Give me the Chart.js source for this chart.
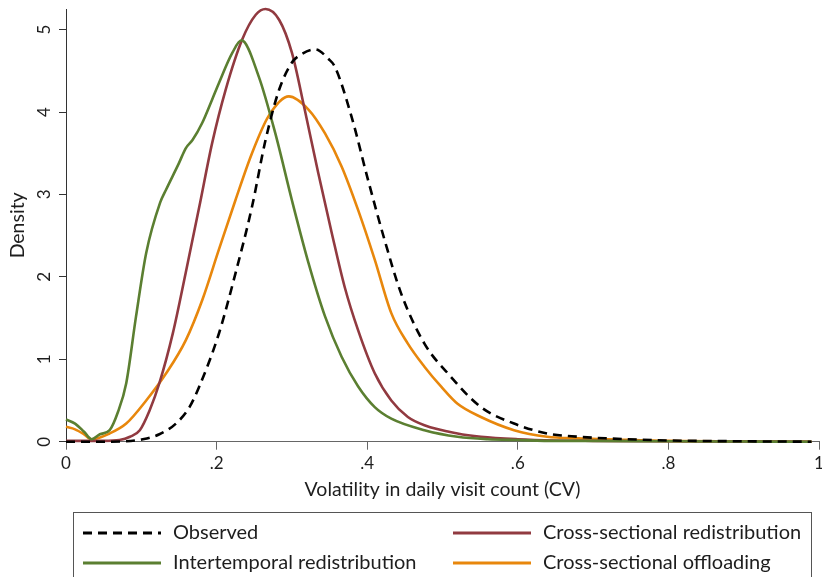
<!DOCTYPE html>
<html>
<head>
<meta charset="utf-8">
<script src="https://cdn.jsdelivr.net/npm/chart.js@4.4.1/dist/chart.umd.min.js"></script>
<style>
  html, body { margin: 0; padding: 0; background: #fff; overflow: hidden; }
  #wrap { width: 830px; height: 577px; }
</style>
</head>
<body>
<div id="wrap"><canvas id="grafico" width="830" height="577"></canvas></div>
<script>
// Ticks
const xTicks = [0, 0.2, 0.4, 0.6, 0.8, 1];
const xTickLabels = ['0', '.2', '.4', '.6', '.8', '1'];
const yTicks = [0, 1, 2, 3, 4, 5];

// Observed
const obsX = [0, 0.05, 0.08, 0.102, 0.124, 0.146, 0.164, 0.177, 0.203, 0.225, 0.247, 0.265, 0.283, 0.300, 0.309, 0.331, 0.349, 0.357, 0.379, 0.401, 0.423, 0.445, 0.476, 0.507, 0.551, 0.595, 0.639, 0.68, 0.72, 0.80, 0.90, 0.99];
const obsY = [0, 0, 0.005, 0.03, 0.09, 0.22, 0.42, 0.67, 1.31, 2.04, 2.85, 3.66, 4.27, 4.60, 4.68, 4.76, 4.64, 4.55, 3.95, 3.18, 2.45, 1.80, 1.19, 0.83, 0.42, 0.22, 0.10, 0.06, 0.04, 0.015, 0.005, 0];

// Intertemporal redistribution
const interX = [0, 0.012, 0.024, 0.034, 0.045, 0.058, 0.069, 0.080, 0.093, 0.1065, 0.125, 0.133, 0.150, 0.159, 0.168, 0.181, 0.194, 0.203, 0.221, 0.233, 0.256, 0.278, 0.300, 0.322, 0.344, 0.366, 0.388, 0.410, 0.432, 0.476, 0.52, 0.56, 0.60, 0.65, 0.70, 0.80, 0.90, 0.99];
const interY = [0.27, 0.22, 0.12, 0.03, 0.09, 0.14, 0.36, 0.71, 1.52, 2.29, 2.90, 3.06, 3.38, 3.56, 3.66, 3.87, 4.15, 4.35, 4.72, 4.87, 4.43, 3.74, 2.93, 2.17, 1.52, 1.03, 0.67, 0.42, 0.28, 0.14, 0.06, 0.03, 0.02, 0.01, 0.01, 0.005, 0.002, 0];

// Cross-sectional redistribution
const redisX = [0, 0.03, 0.05, 0.071, 0.085, 0.098, 0.111, 0.124, 0.142, 0.159, 0.177, 0.194, 0.212, 0.234, 0.252, 0.265, 0.283, 0.300, 0.317, 0.335, 0.353, 0.370, 0.388, 0.410, 0.432, 0.454, 0.476, 0.52, 0.551, 0.60, 0.65, 0.70, 0.80, 0.90, 0.99];
const redisY = [0.01, 0.01, 0.01, 0.02, 0.06, 0.14, 0.38, 0.71, 1.32, 2.05, 2.85, 3.62, 4.27, 4.88, 5.18, 5.25, 5.12, 4.72, 4.03, 3.26, 2.53, 1.88, 1.35, 0.83, 0.50, 0.30, 0.20, 0.10, 0.06, 0.03, 0.015, 0.01, 0.005, 0.002, 0];

// Cross-sectional offloading
const offX = [0, 0.012, 0.024, 0.034, 0.058, 0.080, 0.1065, 0.133, 0.159, 0.181, 0.203, 0.225, 0.247, 0.269, 0.296, 0.322, 0.344, 0.366, 0.388, 0.410, 0.432, 0.454, 0.476, 0.498, 0.52, 0.551, 0.595, 0.639, 0.68, 0.72, 0.80, 0.90, 0.99];
const offY = [0.18, 0.15, 0.09, 0.03, 0.10, 0.22, 0.50, 0.83, 1.23, 1.72, 2.33, 2.93, 3.50, 3.95, 4.19, 4.03, 3.74, 3.34, 2.81, 2.21, 1.56, 1.19, 0.91, 0.67, 0.46, 0.30, 0.14, 0.06, 0.04, 0.03, 0.01, 0.005, 0];

const etiquetas = ['Observed', 'Intertemporal redistribution', 'Cross-sectional redistribution', 'Cross-sectional offloading'];
const colores = ['#000000', '#5b7f31', '#913a40', '#e8870c'];

function puntos(xs, ys) {
    return xs.map((x, i) => ({x: x, y: ys[i]}));
}

const fuente = 'Lato, "Open Sans", sans-serif';
const textoColor = '#1e1e1e';

// Leyenda dibujada en el canvas (caja con dos columnas)
const leyendaCaja = {
    id: 'leyendaCaja',
    afterDraw(chart) {
        const ctx = chart.ctx;
        ctx.save();
        ctx.strokeStyle = '#555';
        ctx.lineWidth = 1;
        ctx.strokeRect(73.5, 512.5, 738, 90);

        const items = [
            {ds: 0, x: 83, y: 533},
            {ds: 2, x: 453, y: 533},
            {ds: 1, x: 83, y: 563},
            {ds: 3, x: 453, y: 563}
        ];
        items.forEach(it => {
            const ds = chart.data.datasets[it.ds];
            ctx.beginPath();
            ctx.strokeStyle = ds.borderColor;
            ctx.lineWidth = 3;
            ctx.setLineDash(ds.borderDash || []);
            ctx.moveTo(it.x, it.y);
            ctx.lineTo(it.x + 78, it.y);
            ctx.stroke();
            ctx.setLineDash([]);
            ctx.fillStyle = textoColor;
            ctx.font = '20px ' + fuente;
            ctx.textBaseline = 'middle';
            ctx.textAlign = 'left';
            ctx.fillText(ds.label, it.x + 90, it.y);
        });
        ctx.restore();
    }
};

const ctx = document.getElementById('grafico');

new Chart(ctx, {
    type: 'line',
    data: {
        datasets: [{
            label: etiquetas[0],
            data: puntos(obsX, obsY),
            borderColor: colores[0],
            borderDash: [9, 6],
            borderWidth: 2.6,
            clip: 5
        }, {
            label: etiquetas[1],
            data: puntos(interX, interY),
            borderColor: colores[1],
            borderWidth: 2.6,
            clip: 5
        }, {
            label: etiquetas[2],
            data: puntos(redisX, redisY),
            borderColor: colores[2],
            borderWidth: 2.6,
            clip: 5
        }, {
            label: etiquetas[3],
            data: puntos(offX, offY),
            borderColor: colores[3],
            borderWidth: 2.6,
            clip: 5
        }]
    },
    options: {
        responsive: false,
        animation: false,
        devicePixelRatio: 1,
        elements: {
            point: {radius: 0},
            line: {cubicInterpolationMode: 'monotone', fill: false}
        },
        layout: {
            padding: {top: 9, right: 11, bottom: 76, left: 0}
        },
        plugins: {
            legend: {display: false},
            tooltip: {enabled: false}
        },
        scales: {
            x: {
                type: 'linear',
                min: 0,
                max: 1,
                afterBuildTicks: scale => { scale.ticks = xTicks.map(v => ({value: v})); },
                afterFit: scale => { scale.height = 59.3; },
                ticks: {
                    color: textoColor,
                    font: {size: 17, family: fuente},
                    padding: 4,
                    maxRotation: 0,
                    callback: (v, i) => xTickLabels[i]
                },
                grid: {drawOnChartArea: false, drawTicks: true, tickLength: 8, color: '#666'},
                border: {display: true, color: '#666', width: 1},
                title: {
                    display: true,
                    text: 'Volatility in daily visit count (CV)',
                    color: textoColor,
                    font: {size: 19.5, family: fuente},
                    padding: {top: 0, bottom: 0}
                }
            },
            y: {
                type: 'linear',
                min: 0,
                max: 5.25,
                afterBuildTicks: scale => { scale.ticks = yTicks.map(v => ({value: v})); },
                afterFit: scale => {
                    scale.width = 66;
                    scale.paddingTop = 0;
                    scale.paddingBottom = 0;
                },
                ticks: {
                    color: textoColor,
                    font: {size: 17, family: fuente},
                    padding: 10,
                    minRotation: 90,
                    maxRotation: 90,
                    crossAlign: 'center'
                },
                grid: {drawOnChartArea: false, drawTicks: true, tickLength: 7, color: '#333'},
                border: {display: true, color: '#333', width: 1},
                title: {
                    display: true,
                    text: 'Density',
                    color: textoColor,
                    font: {size: 19.5, family: fuente},
                    padding: {top: 6, bottom: 0}
                }
            }
        }
    },
    plugins: [leyendaCaja]
});
</script>
</body>
</html>
